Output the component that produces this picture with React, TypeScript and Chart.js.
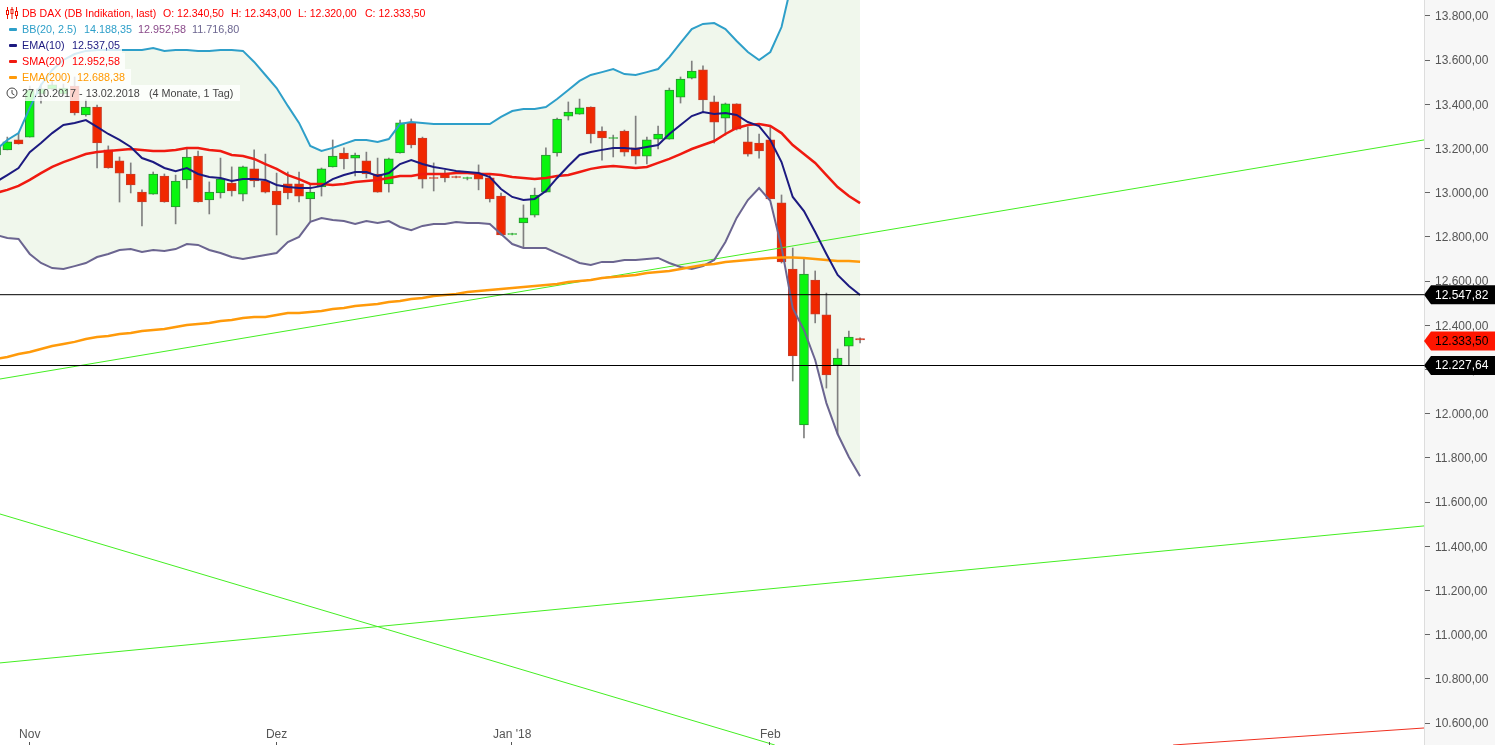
import React, { useEffect, useRef } from "react";
import { Chart, registerables } from "chart.js";

Chart.register(...registerables);

const opens = [13171,13194,13239,13252,13447,13470,13447,13483,13352,13388,13194,13144,13085,13003,12994,13076,12936,13058,13166,12967,12999,13044,12994,13108,13053,13008,13040,13040,12972,13026,13117,13180,13157,13144,13085,13040,13180,13316,13248,13069,13085,13073,13065,13089,13067,12985,12811,12863,12899,13003,13180,13347,13356,13388,13279,13246,13279,13203,13166,13243,13243,13433,13519,13556,13411,13338,13402,13230,13225,13239,12954,12655,11949,12605,12447,12220,12306,12340.5];
const highs = [13239,13252,13270,13483,13492,13506,13492,13524,13420,13397,13212,13162,13135,13013,13094,13085,13080,13203,13189,13049,13157,13117,13121,13194,13175,13089,13094,13094,13035,13112,13239,13203,13180,13184,13157,13157,13329,13334,13252,13135,13103,13076,13071,13126,13080,12999,12817,12945,13021,13203,13338,13411,13424,13389,13298,13261,13284,13347,13252,13302,13474,13524,13596,13574,13438,13406,13403,13298,13266,13298,12990,12750,12700,12646,12546,12293,12374,12343];
const lows = [13162,13194,13220,13252,13406,13465,13438,13352,13347,13112,13111,12958,12999,12850,12993,12957,12859,13021,12957,12904,12976,12985,12963,13026,12999,12809,12972,12958,12872,12985,13116,13108,13076,13067,13002,13003,13179,13203,13021,13008,13049,13067,13058,13013,12958,12808,12809,12754,12890,13002,13166,13329,13355,13225,13148,13162,13166,13130,13130,13198,13242,13406,13515,13365,13225,13261,13284,13166,13157,12971,12682,12148,11890,12411,12116,11908,12220,12320];
const closes = [13207,13230,13221,13465,13470,13488,13474,13361,13388,13225,13112,13089,13035,12958,13085,12958,13053,13162,12958,13003,13062,13008,13117,13053,13003,12945,12999,12985,13003,13108,13166,13153,13171,13085,13003,13153,13316,13216,13062,13065,13067,13069,13069,13062,12972,12809,12815,12886,12990,13171,13334,13365,13384,13266,13248,13250,13184,13166,13239,13266,13465,13515,13551,13420,13320,13402,13288,13175,13189,12972,12687,12261,12632,12451,12175,12252,12347,12333.5];

const bbUpper = [13194,13239,13270,13384,13488,13556,13601,13628,13642,13646,13646,13646,13646,13646,13655,13642,13646,13646,13642,13642,13646,13646,13642,13592,13533,13474,13393,13316,13212,13189,13203,13221,13239,13239,13230,13243,13311,13320,13316,13311,13311,13311,13311,13311,13311,13343,13370,13379,13379,13388,13424,13465,13506,13533,13546,13560,13537,13533,13546,13560,13614,13678,13741,13764,13768,13741,13687,13637,13601,13637,13750,13970,14053,14121,14167,14190,14198,14188.35];
const bbLower = [12809,12795,12791,12723,12682,12659,12655,12668,12682,12709,12723,12741,12745,12732,12741,12736,12745,12768,12764,12741,12727,12709,12700,12709,12718,12727,12777,12800,12868,12886,12877,12872,12859,12872,12863,12872,12845,12831,12850,12859,12859,12868,12863,12863,12859,12813,12768,12750,12750,12750,12727,12705,12682,12673,12687,12687,12696,12696,12700,12705,12682,12664,12655,12668,12696,12777,12886,12967,13021,12963,12754,12478,12379,12243,12048,11908,11804,11716.8];
const ema10 = [13049,13080,13112,13184,13225,13270,13307,13316,13329,13298,13266,13239,13207,13157,13139,13112,13098,13112,13085,13071,13067,13053,13062,13062,13058,13035,13026,13021,13021,13031,13062,13080,13094,13094,13076,13089,13130,13148,13130,13117,13108,13098,13094,13089,13071,13017,12981,12967,12972,13008,13067,13121,13171,13184,13194,13203,13203,13198,13207,13216,13266,13307,13347,13365,13356,13361,13352,13320,13302,13239,13139,12981,12917,12822,12723,12628,12578,12537];
const sma20 = [12999,13013,13031,13058,13089,13117,13139,13157,13175,13184,13189,13194,13198,13194,13189,13189,13194,13203,13203,13194,13189,13171,13166,13153,13130,13108,13080,13062,13040,13040,13035,13040,13049,13053,13058,13067,13076,13076,13085,13085,13085,13089,13089,13085,13085,13080,13071,13067,13062,13067,13076,13080,13094,13108,13117,13121,13117,13112,13117,13135,13153,13175,13198,13216,13234,13266,13293,13307,13311,13302,13270,13216,13175,13135,13080,13026,12985,12953];
const ema200 = [12248,12257,12270,12279,12293,12306,12315,12325,12338,12347,12352,12361,12365,12374,12379,12383,12392,12401,12406,12411,12420,12424,12433,12438,12438,12447,12456,12456,12460,12465,12474,12478,12487,12492,12497,12506,12510,12519,12524,12533,12537,12542,12551,12555,12560,12564,12569,12573,12578,12583,12587,12596,12601,12605,12614,12619,12623,12628,12637,12641,12646,12655,12664,12673,12678,12687,12691,12696,12700,12705,12707,12707,12705,12700,12696,12691,12691,12688];

const yTickValues = [13800,13600,13400,13200,13000,12800,12600,12400,12200,12000,11800,11600,11400,11200,11000,10800,10600];
const monthTicks = [3,25,46,69];
const monthLabels = ["Nov","Dez","Jan '18","Feb"];

const trendUpX = [0.348,127.26];
const trendUpY = [12157,13239];
const trendLowX = [0.348,127.26];
const trendLowY = [10872,11492];
const trendFallX = [0.348,69.4];
const trendFallY = [11546,10500.5];
const trendRedX = [104.9,127.26];
const trendRedY = [10500.5,10577.5];

const levelHigh = 12538.6;
const levelLow = 12218;
const lastTag = 12329;
const tagValues = [levelHigh,lastTag,levelLow];
const tagLabels = ["12.547,82","12.333,50","12.227,64"];
const tagFills = ["#000000","#ff1500","#000000"];
const tagInks = ["#ffffff","#000000","#ffffff"];

const X_MIN = 0.348;
const X_MAX = 127.26;
const Y_MIN = 10500.5;
const Y_MAX = 13872.4;
const FONT = "'Liberation Sans', Arial, sans-serif";

const GREEN = "#0af50f";
const GREEN_EDGE = "#2e8b37";
const RED = "#f02800";
const RED_EDGE = "#c83c28";

const series = (values: number[]) => values.map((y, x) => ({ x, y }));
const pair = (xs: number[], ys: number[]) => xs.map((x, i) => ({ x, y: ys[i] }));
const isUp = (i: number) => closes[i] >= opens[i];

const de = (v: number) => {
  const [whole, frac] = v.toFixed(2).split(".");
  return whole.replace(/\B(?=(\d{3})+$)/g, ".") + "," + frac;
};

const line = (data: any[], color: string, width: number, order: number) => ({
  type: "line" as const,
  data,
  borderColor: color,
  borderWidth: width,
  pointRadius: 0,
  tension: 0,
  fill: false,
  order,
});

const chromePlugin = {
  id: "chrome",
  afterDraw(chart: any) {
    const { ctx } = chart;
    const x = chart.scales.x;
    const y = chart.scales.y;
    ctx.save();
    ctx.strokeStyle = "#555555";
    ctx.lineWidth = 1;
    monthTicks.forEach((v) => {
      const px = Math.round(x.getPixelForValue(v)) - 0.5;
      ctx.beginPath();
      ctx.moveTo(px, 742);
      ctx.lineTo(px, 745);
      ctx.stroke();
    });
    ctx.font = `12px ${FONT}`;
    ctx.textBaseline = "middle";
    ctx.textAlign = "left";
    tagValues.forEach((v, i) => {
      const py = y.getPixelForValue(v);
      ctx.fillStyle = tagFills[i];
      ctx.beginPath();
      ctx.moveTo(1424, py);
      ctx.lineTo(1431, py - 9.5);
      ctx.lineTo(1495, py - 9.5);
      ctx.lineTo(1495, py + 9.5);
      ctx.lineTo(1431, py + 9.5);
      ctx.closePath();
      ctx.fill();
      ctx.fillStyle = tagInks[i];
      ctx.fillText(tagLabels[i], 1435, py + 0.5);
    });
    ctx.restore();
  },
};

const Row = ({ top, width, size, children }: any) => (
  <div
    style={{
      position: "absolute",
      left: 0,
      top,
      width,
      height: 16,
      lineHeight: "16px",
      fontSize: size ?? 10.8,
      background: "rgba(255,255,255,0.8)",
      whiteSpace: "pre",
    }}
  >
    {children}
  </div>
);
const T = ({ x, color, children }: any) => (
  <span style={{ position: "absolute", left: x, top: 0, color }}>{children}</span>
);
const Swatch = ({ color }: any) => (
  <span style={{ position: "absolute", left: 9, top: 7, width: 8, height: 3, background: color, borderRadius: 1 }} />
);

export default function App() {
  const ref = useRef<HTMLCanvasElement>(null);
  useEffect(() => {
    document.body.style.margin = "0";
    document.body.style.overflow = "hidden";
    const canvas = ref.current;
    if (!canvas) return;
    const data: any = {
      datasets: [
        {
          ...line(series(bbUpper), "rgba(0,0,0,0)", 0, 100),
          backgroundColor: "#f0f7ec",
          fill: { target: 1 },
        },
        { ...line(series(bbLower), "#6b6590", 2, 5) },
        {
          type: "bar",
          data: lows.map((l, i) => ({ x: i, y: [l, highs[i]] })),
          backgroundColor: "#808080",
          borderWidth: 0,
          barThickness: 1,
          grouped: false,
          order: 50,
        },
        {
          type: "bar",
          data: opens.map((o, i) => ({ x: i, y: [o, closes[i]] })),
          backgroundColor: opens.map((_, i) => (isUp(i) ? GREEN : RED)),
          borderColor: opens.map((_, i) => (isUp(i) ? GREEN_EDGE : RED_EDGE)),
          borderWidth: 1,
          borderSkipped: false,
          barThickness: 9,
          grouped: false,
          order: 40,
        },
        line(series(bbUpper), "#2e9fc9", 2, 5),
        line(series(ema200), "#ff9a0a", 2.5, 4),
        line(series(sma20), "#f01a10", 2.5, 3),
        line(series(ema10), "#1c1a80", 2, 2),
        line(pair(trendUpX, trendUpY), "#44ee22", 1, 6),
        line(pair(trendLowX, trendLowY), "#44ee22", 1, 6),
        line(pair(trendFallX, trendFallY), "#44ee22", 1, 6),
        line(pair(trendRedX, trendRedY), "#f03020", 1, 6),
        line(pair([X_MIN, X_MAX], [levelHigh, levelHigh]), "#000000", 1, 1),
        line(pair([X_MIN, X_MAX], [levelLow, levelLow]), "#000000", 1, 1),
      ],
    };
    const chart = new Chart(canvas, {
      type: "bar",
      data,
      plugins: [chromePlugin],
      options: {
        responsive: false,
        animation: false,
        devicePixelRatio: 1,
        layout: { padding: 0 },
        plugins: { legend: { display: false }, tooltip: { enabled: false } },
        scales: {
          x: {
            type: "linear",
            position: "bottom",
            min: X_MIN,
            max: X_MAX,
            offset: false,
            grid: { display: false, offset: false, drawTicks: false },
            border: { display: false },
            ticks: {
              autoSkip: false,
              maxRotation: 0,
              minRotation: 0,
              mirror: true,
              padding: 3,
              color: "#555555",
              font: { family: FONT, size: 12 },
              callback: (v: any) => monthLabels[monthTicks.indexOf(v)] ?? "",
            },
            afterBuildTicks: (s: any) => {
              s.ticks = monthTicks.map((value) => ({ value }));
            },
            afterFit: (s: any) => {
              s.height = 0;
              s.paddingLeft = 0;
              s.paddingRight = 0;
              s.paddingTop = 0;
              s.paddingBottom = 0;
            },
          },
          y: {
            type: "linear",
            position: "right",
            min: Y_MIN,
            max: Y_MAX,
            backgroundColor: "#f7f7f7",
            grid: { display: true, drawOnChartArea: false, drawTicks: true, tickLength: 6, tickColor: "#666666", tickWidth: 1 },
            border: { display: true, color: "#dddddd", width: 1 },
            ticks: {
              autoSkip: false,
              padding: 5,
              labelOffset: 1,
              color: "#555555",
              font: { family: FONT, size: 12 },
              callback: (v: any) => de(Number(v)),
            },
            afterBuildTicks: (s: any) => {
              s.ticks = yTickValues.map((value) => ({ value }));
            },
            afterFit: (s: any) => {
              s.width = 71;
              s.paddingTop = 0;
              s.paddingBottom = 0;
            },
          },
        },
      } as any,
    });
    return () => chart.destroy();
  }, []);

  return (
    <div style={{ position: "absolute", left: 0, top: 0, width: 1495, height: 745, overflow: "hidden", background: "#fff" }}>
      <canvas ref={ref} width={1495} height={745} style={{ display: "block" }} />
      <div style={{ position: "absolute", left: 0, top: 0, fontFamily: FONT, width: 500, height: 105 }}>
        <Row top={5} width={428} size={10.55}>
          <svg style={{ position: "absolute", left: 6, top: 2 }} width="12" height="12" viewBox="0 0 12 12">
            <path d="M1.5 0V12M6 0V12M10.5 0V12" stroke="#ee1100" strokeWidth="1" />
            <rect x="0.5" y="3.5" width="2" height="4" fill="#fff" stroke="#ee1100" />
            <rect x="5" y="2.5" width="2" height="4" fill="#fff" stroke="#ee1100" />
            <rect x="9.5" y="4.5" width="2" height="4" fill="#fff" stroke="#ee1100" />
          </svg>
          <T x={22} color="#ff0000">DB DAX (DB Indikation, last)</T>
          <T x={163} color="#ff0000">O: 12.340,50</T>
          <T x={231} color="#ff0000">H: 12.343,00</T>
          <T x={298} color="#ff0000">L: 12.320,00</T>
          <T x={365} color="#ff0000">C: 12.333,50</T>
        </Row>
        <Row top={21} width={243}>
          <Swatch color="#2e9fc9" />
          <T x={22} color="#2e9fc9">BB(20, 2.5)</T>
          <T x={84} color="#2e9fc9">14.188,35</T>
          <T x={138} color="#8a4a8a">12.952,58</T>
          <T x={192} color="#6b6590">11.716,80</T>
        </Row>
        <Row top={37} width={122}>
          <Swatch color="#1c1a80" />
          <T x={22} color="#1c1a80">EMA(10)</T>
          <T x={72} color="#1c1a80">12.537,05</T>
        </Row>
        <Row top={53} width={125}>
          <Swatch color="#f01a10" />
          <T x={22} color="#ff0000">SMA(20)</T>
          <T x={72} color="#ff0000">12.952,58</T>
        </Row>
        <Row top={69} width={131}>
          <Swatch color="#ff9a0a" />
          <T x={22} color="#ff9900">EMA(200)</T>
          <T x={77} color="#ff9900">12.688,38</T>
        </Row>
        <Row top={85} width={240}>
          <svg style={{ position: "absolute", left: 6, top: 2 }} width="12" height="12" viewBox="0 0 12 12">
            <circle cx="6" cy="6" r="5" fill="none" stroke="#444" strokeWidth="1" />
            <path d="M6 3V6.5L8.5 8" fill="none" stroke="#444" strokeWidth="1" />
          </svg>
          <T x={22} color="#444444">27.10.2017 - 13.02.2018</T>
          <T x={149} color="#444444">(4 Monate, 1 Tag)</T>
        </Row>
      </div>
    </div>
  );
}
